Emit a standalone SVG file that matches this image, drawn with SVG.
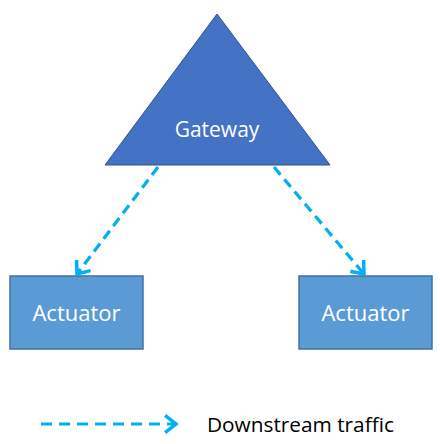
<svg xmlns="http://www.w3.org/2000/svg" width="440" height="444" viewBox="0 0 440 444">
<style>
.lbl{font-family:"Open Sans","Noto Sans",sans-serif;fill:#fff;text-anchor:middle}
.act{fill:#5B9BD5;stroke:#41719C;stroke-width:1.5}
.conn{fill:none;stroke:#00B0F0;stroke-width:3.2;stroke-dasharray:10 6}
</style>
<defs>
<marker id="ah" markerUnits="userSpaceOnUse" markerWidth="24" markerHeight="24" viewBox="-13 -11 15 22" refX="0" refY="0" orient="auto">
<path d="M-10,-8 L0,0 L-10,8" fill="none" stroke="#00B0F0" stroke-width="3.2"/>
</marker>
</defs>
<g id="gateway">
<polygon points="217,14 105,165 330,165" fill="#4472C4" stroke="#2F528F" stroke-width="1"/>
<text class="lbl" x="217" y="137" font-size="21">Gateway</text>
</g>
<g id="actuator1">
<rect class="act" x="10" y="276" width="133" height="73"/>
<text class="lbl" x="76.5" y="321" font-size="22">Actuator</text>
</g>
<g id="actuator2">
<rect class="act" x="299" y="276" width="133" height="73"/>
<text class="lbl" x="365.5" y="321" font-size="22">Actuator</text>
</g>
<g id="connectors">
<line class="conn" x1="158" y1="167" x2="77" y2="274" marker-end="url(#ah)"/>
<line class="conn" x1="274" y1="167" x2="364" y2="274" marker-end="url(#ah)"/>
</g>
<g id="legend">
<line class="conn" x1="41" y1="424" x2="176" y2="424" style="stroke-dasharray:11 7" marker-end="url(#ah)"/>
<text x="207" y="432" font-size="20.8" font-family="Open Sans, Noto Sans, sans-serif" fill="#000">Downstream traffic</text>
</g>
</svg>
